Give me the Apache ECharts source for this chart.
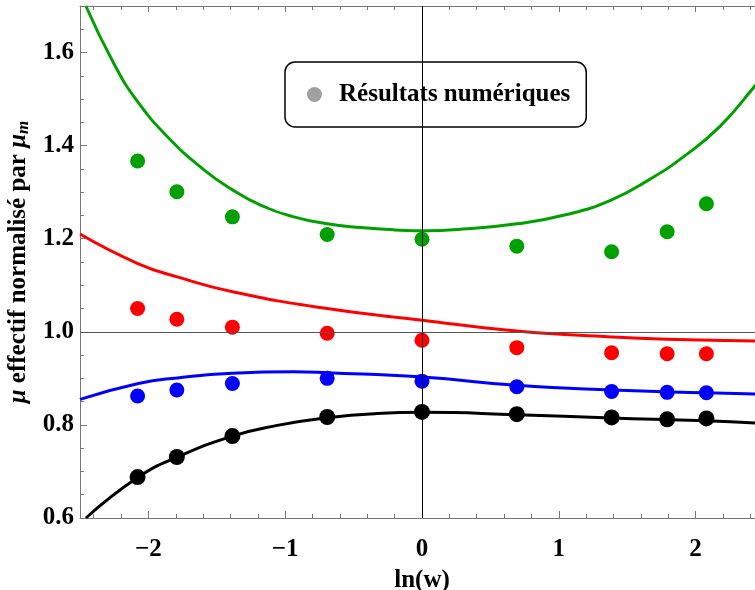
<!DOCTYPE html>
<html>
<head>
<meta charset="utf-8">
<script src="https://cdn.jsdelivr.net/npm/echarts@6/dist/echarts.min.js"></script>
<style>html,body{margin:0;padding:0;background:#fff}#c{width:755px;height:590px}</style>
</head>
<body>
<div id="c"></div>
<script>
// ---- data ----
var lnW = [-2.079, -1.792, -1.386, -0.693, 0, 0.693, 1.386, 1.792, 2.079];
var ptsGreen = [1.367, 1.301, 1.247, 1.209, 1.199, 1.184, 1.172, 1.215, 1.275];
var ptsRed   = [1.050, 1.027, 1.010, 0.997, 0.982, 0.966, 0.955, 0.953, 0.953];
var ptsBlue  = [0.862, 0.875, 0.889, 0.900, 0.894, 0.882, 0.872, 0.870, 0.869];
var ptsBlack = [0.688, 0.731, 0.776, 0.817, 0.828, 0.823, 0.816, 0.812, 0.814];

var curveGreenX = [-2.457, -2.25, -2.08, -1.85, -1.594, -1.385, -1.18, -0.937, -0.693, -0.45, -0.2, 0.05, 0.3, 0.693, 1.058, 1.382, 1.667, 1.92, 2.18, 2.433, 2.5];
var curveGreenY = [1.70, 1.575, 1.495, 1.416, 1.348, 1.305, 1.272, 1.247, 1.232, 1.224, 1.219, 1.217, 1.221, 1.232, 1.252, 1.283, 1.328, 1.378, 1.442, 1.528, 1.552];
var curveRedX = [-2.5, -2.073, -1.788, -1.385, -0.693, 0, 0.693, 1.382, 1.788, 2.5];
var curveRedY = [1.21, 1.146, 1.118, 1.086, 1.050, 1.025, 1.002, 0.989, 0.984, 0.980];
var curveBlueX = [-2.5, -2.073, -1.788, -1.385, -0.937, -0.693, 0, 0.693, 1.382, 2.075, 2.5];
var curveBlueY = [0.855, 0.889, 0.901, 0.911, 0.914, 0.912, 0.903, 0.885, 0.875, 0.869, 0.866];
var curveBlackX = [-2.457, -2.073, -1.788, -1.385, -1.058, -0.693, -0.328, 0, 0.693, 1.382, 2.075, 2.5];
var curveBlackY = [0.60, 0.688, 0.731, 0.776, 0.799, 0.8155, 0.8245, 0.827, 0.822, 0.815, 0.809, 0.803];

var xMajor = [-2, -1, 0, 1, 2];
var xMinor = [-2.4, -2.2, -1.8, -1.6, -1.4, -1.2, -0.8, -0.6, -0.4, -0.2, 0.2, 0.4, 0.6, 0.8, 1.2, 1.4, 1.6, 1.8, 2.2, 2.4];
var yMajor = [0.6, 0.8, 1.0, 1.2, 1.4, 1.6];
var yMinor = [0.65, 0.7, 0.75, 0.85, 0.9, 0.95, 1.05, 1.1, 1.15, 1.25, 1.3, 1.35, 1.45, 1.5, 1.55, 1.65];

var legendName = 'Résultats numériques';
// ---------------

function zip(a, b) { return a.map(function (v, i) { return [v, b[i]]; }); }

var FONT = 'Liberation Serif';
var frameColor = '#777';
var chart = echarts.init(document.getElementById('c'), null, {renderer: 'canvas'});

var xBase = {type: 'value', min: -2.5, max: 2.5, splitLine: {show: false}};
var yBase = {type: 'value', min: 0.6, max: 1.7, splitLine: {show: false}};

function curve(name, xs, ys, color) {
  return {type: 'line', name: name, data: zip(xs, ys), smooth: 0.5, showSymbol: false,
    lineStyle: {color: color, width: 3}, itemStyle: {color: color}, z: 2};
}
function pts(name, ys, color, size) {
  return {type: 'scatter', name: name, data: zip(lnW, ys), symbolSize: size, itemStyle: {color: color, opacity: 1}, z: 3};
}

var option = {
  animation: false,
  backgroundColor: '#fff',
  grid: {left: 80, top: 6, right: -9, bottom: 72, containLabel: false, outerBoundsMode: 'none'},
  legend: {
    left: 285, top: 62,
    data: [{name: legendName, icon: 'circle'}],
    itemWidth: 15, itemHeight: 15,
    borderColor: '#000', borderWidth: 1.5, borderRadius: 10,
    padding: [20, 16, 20, 22],
    selectedMode: false,
    textStyle: {fontFamily: FONT, fontWeight: 'bold', fontSize: 25, color: '#000', padding: [0, 0, 0, 12]}
  },
  xAxis: [
    Object.assign({}, xBase, {
      position: 'bottom',
      name: 'ln(w)', nameLocation: 'middle', nameGap: 50,
      nameTextStyle: {fontFamily: FONT, fontWeight: 'bold', fontSize: 25, color: '#000'},
      axisLine: {show: true, onZero: false, lineStyle: {color: frameColor, width: 1}},
      axisTick: {show: true, inside: true, length: 7, customValues: xMajor, lineStyle: {color: frameColor}},
      axisLabel: {customValues: xMajor, margin: 19, fontFamily: FONT, fontWeight: 'bold', fontSize: 25, color: '#000',
        formatter: function (v) { return String(v).replace('-', '\u2212'); }}
    }),
    Object.assign({}, xBase, {
      position: 'bottom',
      axisLine: {show: false, onZero: false},
      axisTick: {show: true, inside: true, length: 4, customValues: xMinor, lineStyle: {color: frameColor}},
      axisLabel: {show: false}
    }),
    Object.assign({}, xBase, {
      position: 'top',
      axisLine: {show: true, onZero: false, lineStyle: {color: frameColor, width: 1}},
      axisTick: {show: true, inside: true, length: 6, customValues: xMajor, lineStyle: {color: frameColor}},
      axisLabel: {show: false}
    }),
    Object.assign({}, xBase, {
      position: 'top',
      axisLine: {show: false, onZero: false},
      axisTick: {show: true, inside: true, length: 4, customValues: xMinor, lineStyle: {color: frameColor}},
      axisLabel: {show: false}
    })
  ],
  yAxis: [
    Object.assign({}, yBase, {
      position: 'left',
      name: '{i|\u03bc} effectif normalisé par {i|\u03bc}{s|m}',
      nameLocation: 'middle', nameGap: 46, nameRotate: 90,
      nameTextStyle: {fontFamily: FONT, fontWeight: 'bold', fontSize: 25, color: '#000',
        rich: {
          i: {fontFamily: FONT, fontWeight: 'bold', fontStyle: 'italic', fontSize: 25, color: '#000'},
          s: {fontFamily: FONT, fontWeight: 'bold', fontStyle: 'italic', fontSize: 17, color: '#000', padding: [10, 0, 0, 0]}
        }},
      axisLine: {show: true, onZero: false, lineStyle: {color: frameColor, width: 1}},
      axisTick: {show: true, inside: true, length: 7, customValues: yMajor, lineStyle: {color: frameColor}},
      axisLabel: {customValues: yMajor, margin: 6, fontFamily: FONT, fontWeight: 'bold', fontSize: 25, color: '#000',
        formatter: function (v) { return v.toFixed(1); }}
    }),
    Object.assign({}, yBase, {
      position: 'left',
      axisLine: {show: false, onZero: false},
      axisTick: {show: true, inside: true, length: 4, customValues: yMinor, lineStyle: {color: frameColor}},
      axisLabel: {show: false}
    })
  ],
  series: [
    curve('cg', curveGreenX, curveGreenY, '#00a000'),
    curve('cr', curveRedX, curveRedY, '#ff0000'),
    curve('cb', curveBlueX, curveBlueY, '#0000ff'),
    curve('ck', curveBlackX, curveBlackY, '#000000'),
    pts('pg', ptsGreen, '#00a000', 15),
    pts('pr', ptsRed, '#ff0000', 15),
    pts('pb', ptsBlue, '#0000ff', 15),
    pts('pk', ptsBlack, '#000000', 16),
    {type: 'scatter', name: legendName, data: [], itemStyle: {color: '#888888'},
      markLine: {silent: true, symbol: 'none', z: 10, label: {show: false},
        data: [
          {xAxis: 0, lineStyle: {color: '#000', width: 1, type: 'solid'}},
          {yAxis: 1, lineStyle: {color: '#555', width: 1, type: 'solid'}}
        ]}
    }
  ]
};
chart.setOption(option);
</script>
</body>
</html>
